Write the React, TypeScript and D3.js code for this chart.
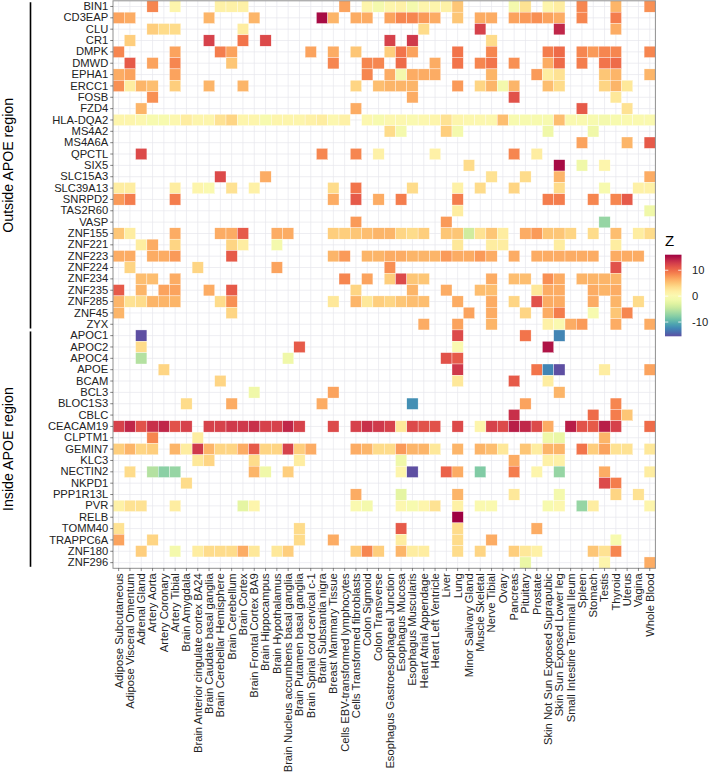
import React, { useEffect, useRef } from "react";
import * as d3 from "d3";

const tissues = [
  "Adipose Subcutaneous", "Adipose Visceral Omentum", "Adrenal Gland", "Artery Aorta",
  "Artery Coronary", "Artery Tibial", "Brain Amygdala", "Brain Anterior cingulate cortex BA24",
  "Brain Caudate basal ganglia", "Brain Cerebellar Hemisphere", "Brain Cerebellum", "Brain Cortex",
  "Brain Frontal Cortex BA9", "Brain Hippocampus", "Brain Hypothalamus",
  "Brain Nucleus accumbens basal ganglia", "Brain Putamen basal ganglia",
  "Brain Spinal cord cervical c-1", "Brain Substantia nigra", "Breast Mammary Tissue",
  "Cells EBV-transformed lymphocytes", "Cells Transformed fibroblasts", "Colon Sigmoid",
  "Colon Transverse", "Esophagus Gastroesophageal Junction", "Esophagus Mucosa",
  "Esophagus Muscularis", "Heart Atrial Appendage", "Heart Left Ventricle", "Liver", "Lung",
  "Minor Salivary Gland", "Muscle Skeletal", "Nerve Tibial", "Ovary", "Pancreas", "Pituitary",
  "Prostate", "Skin Not Sun Exposed Suprapubic", "Skin Sun Exposed Lower leg",
  "Small Intestine Terminal Ileum", "Spleen", "Stomach", "Testis", "Thyroid", "Uterus", "Vagina",
  "Whole Blood",
];

const outsideGenes = [
  "BIN1", "CD3EAP", "CLU", "CR1", "DMPK", "DMWD", "EPHA1", "ERCC1", "FOSB", "FZD4",
  "HLA-DQA2", "MS4A2", "MS4A6A", "QPCTL", "SIX5", "SLC15A3", "SLC39A13", "SNRPD2",
  "TAS2R60", "VASP", "ZNF155", "ZNF221", "ZNF223", "ZNF224", "ZNF234", "ZNF235",
  "ZNF285", "ZNF45", "ZYX",
];

const insideGenes = [
  "APOC1", "APOC2", "APOC4", "APOE", "BCAM", "BCL3", "BLOC1S3", "CBLC", "CEACAM19",
  "CLPTM1", "GEMIN7", "KLC3", "NECTIN2", "NKPD1", "PPP1R13L", "PVR", "RELB", "TOMM40",
  "TRAPPC6A", "ZNF180", "ZNF296",
];

// each gene: [tissue index, Z] pairs, missing tissues are blank
const outsideZ: [number, number][][] = [
  [[3, 8.5], [5, 1], [9, 1.5], [10, 1.5], [11, 1.5], [20, 7], [22, 1], [23, -1], [24, 1], [25, 1.5], [26, -1], [27, 1], [28, 1], [29, 1.5], [30, 5], [35, -1], [36, 3], [38, 1], [39, 2], [41, 8.5], [44, 6], [47, 8]],
  [[0, 7], [1, 6.5], [8, 6], [12, 6], [18, 15.5], [19, 6], [21, 6.5], [22, 6.5], [24, 7], [25, 8.5], [26, 8.5], [27, 7.5], [28, 6.5], [30, 5], [32, 6.5], [33, 6.5], [35, 7], [36, 7.5], [37, 8], [38, 7], [39, 6.5], [41, 8.5], [44, 9]],
  [[3, 4.5], [4, 3.5], [5, 3.5], [11, 2], [27, 3.5], [32, 12.5], [39, 14], [44, 6.5]],
  [[1, 4.5], [8, 12.5], [11, 9.5], [13, 12], [24, 12.5], [26, 13], [33, 3.5]],
  [[0, 8.5], [5, 7], [9, 9], [10, 7], [17, 7], [19, 6.5], [21, 5], [24, 4.5], [25, 9.5], [26, 7], [30, 9.5], [33, 8.5], [38, 9], [39, 10], [41, 8.5], [42, 7.5], [43, 8.5], [44, 8.5], [47, 8.5]],
  [[1, 11], [3, 7], [5, 8.5], [10, 5], [19, 8.5], [22, 8.5], [23, 8.5], [25, 10], [28, 6.5], [30, 9.5], [32, 8.5], [33, 9.5], [35, 8], [38, 6.5], [39, 10], [41, 9], [43, 9.5], [44, 10]],
  [[0, 6.5], [1, 7], [5, 7], [22, 8.5], [24, 6.5], [25, -1], [26, 6.5], [27, 6.5], [28, 6.5], [33, 6], [37, 7.5], [38, 2], [39, 3], [43, 5], [44, 6], [47, 6]],
  [[0, 8], [1, 2], [2, 6], [3, 5.5], [5, 4.5], [8, 6], [11, 6], [21, 4], [23, 5.5], [24, 6], [25, 6], [26, 6], [30, 7.5], [32, 4], [33, 6], [34, -1], [35, 6], [38, 5.5], [39, 3.5], [43, 4], [44, 6], [45, 2.5]],
  [[3, 8], [26, 6.5], [35, 11.5], [44, 2.5]],
  [[2, 6], [21, 6.5], [41, 11], [45, 3]],
  [[0, 1], [1, 1], [2, 0.5], [3, -0.5], [4, -0.5], [5, 0.5], [6, 2], [7, 1], [8, 1], [9, 3], [10, 4], [11, 1], [12, 1], [13, -0.5], [14, 1], [15, 1], [16, 1], [17, 1.5], [18, 2], [19, 0.5], [20, 1.5], [22, 0.5], [23, -0.5], [24, 0.5], [25, 0.5], [26, 0], [27, 0.5], [28, 1], [29, 3], [30, 1], [31, 0.5], [32, 0.5], [33, 0.5], [34, 5.5], [35, -0.5], [36, -0.5], [37, -0.5], [38, -0.5], [39, 5.5], [40, 0], [41, 0], [42, -0.5], [43, -1], [44, -0.5], [45, 0], [46, 0], [47, 0]],
  [[24, 3.5], [25, -1], [29, 4.5], [30, -1], [38, -1.5], [42, -1.5]],
  [[41, 7], [45, 6], [47, 11]],
  [[2, 12], [18, 8.5], [21, 8.5], [23, 1.5], [28, 1.5], [35, 8.5], [37, 2]],
  [[31, 3.5], [39, 15.5], [41, -1.5], [43, 1]],
  [[9, 12], [13, 6.5], [33, 3], [36, 3.5], [39, 6], [47, 6.5]],
  [[0, 2], [1, 2], [5, 2], [7, 1], [8, 0], [10, 3], [12, 1.5], [19, 3.5], [21, 9.5], [26, 3.5], [30, 1.5], [32, 3.5], [35, 4], [39, 3.5], [43, -0.5], [46, 1.5], [47, 1.5]],
  [[0, 7.5], [1, 9], [5, 9], [19, 6.5], [21, 11], [23, 6.5], [25, 9], [30, 9], [38, 9], [39, 9], [42, 8.5], [44, 8.5], [45, 11]],
  [[30, 2], [47, -1.5]],
  [[21, 7.5], [29, 7.5], [43, -7]],
  [[0, 5], [1, 2], [5, 6.5], [9, 6.5], [10, 6.5], [11, 11], [14, 6.5], [15, 6.5], [19, 4.5], [20, 4.5], [21, 5], [22, 5.5], [23, 6], [24, 6], [25, 4], [26, 3.5], [27, 4.5], [29, 5], [30, 5], [31, -4], [32, 3], [33, 5], [34, 2], [36, 6.5], [37, 7.5], [38, 5], [39, 5], [40, 4], [42, 3.5], [44, 5.5], [46, 2], [47, 3.5]],
  [[2, 2], [3, 6.5], [5, 4], [10, 4], [11, 2], [14, -1], [30, 2.5], [33, 2], [34, 2], [39, 2], [44, 2]],
  [[0, 6.5], [1, 6.5], [3, 6.5], [4, 6.5], [5, 7.5], [10, 11], [19, 6], [20, 7.5], [22, 6], [23, 6], [24, 6.5], [25, 6.5], [26, 6], [27, 6], [28, 6], [29, 7.5], [30, 6.5], [31, 6.5], [32, 7.5], [33, 6.5], [35, 6.5], [37, 6.5], [38, 6.5], [39, 6.5], [40, 6.5], [41, 6.5], [42, 6.5], [44, 6.5], [45, 6.5], [46, 6.5]],
  [[1, 4], [7, 4], [14, 7], [24, 8], [44, 11.5]],
  [[2, 5.5], [3, 5.5], [5, 6.5], [20, 8.5], [22, 7], [24, 4.5], [25, 12], [26, 5], [27, 5], [33, 6.5], [35, 5.5], [36, 5.5], [38, 8], [39, 6.5], [41, 6], [42, 6], [43, 6], [44, 6]],
  [[0, 11], [2, 6], [4, 7], [5, 7], [8, 6.5], [10, 11], [21, 4], [26, 6], [29, 6.5], [32, 5.5], [33, 5.5], [37, 2.5], [38, 6.5], [39, 6.5], [42, 6.5], [43, 6], [44, 6.5]],
  [[0, 6], [1, 3], [2, 3.5], [3, 6], [4, 6], [5, 6], [9, 3.5], [10, 8], [19, 2.5], [21, 6], [22, 2.5], [23, 4.5], [24, 4], [25, 5], [26, 5.5], [27, 5.5], [30, 6.5], [33, 6.5], [35, 4], [37, 11.5], [38, 6.5], [39, 6.5], [42, 6.5], [44, 6], [46, 3.5]],
  [[0, 6], [10, 4], [31, 7], [33, 6.5], [36, 4], [38, 6.5], [39, 9], [42, -0.5], [44, 5], [45, 8.5]],
  [[27, 6.5], [30, 7], [33, 6], [38, 1.5], [39, 0], [40, 6.5], [41, 7.5], [44, 6.5], [47, 6.5]],
];

const insideZ: [number, number][][] = [
  [[2, -15.5], [30, 12], [36, 9.5], [39, -12.5]],
  [[2, 3.5], [16, 11], [30, 0], [38, 15]],
  [[2, -5.5], [15, -1.5], [29, 11.5], [30, 11]],
  [[4, 4], [30, 13], [37, 9.5], [38, -12.5], [39, -15.5], [43, 2], [47, 7]],
  [[9, 4], [30, 2.5], [35, 11], [38, 2]],
  [[12, -1.5], [19, 7], [39, 6]],
  [[6, 3.5], [10, 6.5], [18, 6.5], [26, -12], [36, 7], [44, 8.5]],
  [[35, 13.5], [42, 10], [44, 9], [45, 5]],
  [[0, 12.5], [1, 14], [2, 11.5], [3, 13.5], [4, 14], [5, 11.5], [6, 12.5], [8, 12.5], [9, 12.5], [10, 13], [11, 13], [12, 13.5], [13, 12.5], [14, 12.5], [15, 14], [16, 12.5], [19, 12], [21, 12.5], [22, 13.5], [23, 13], [24, 12.5], [25, 2.5], [26, 12], [27, 11.5], [28, 11.5], [30, 12], [32, 1], [33, 12.5], [34, 12], [35, 14.5], [36, 14], [37, 12], [38, 6.5], [40, 14.5], [41, 11.5], [42, 11], [43, 14.5], [44, 12.5], [47, 10]],
  [[3, 8.5], [7, 2], [38, -1.5], [39, -2], [43, 6]],
  [[0, 4.5], [1, 6], [2, 4], [3, 4.5], [5, 6], [6, 2], [7, 13], [8, 6], [9, 4], [10, 4], [11, 6.5], [12, 11], [13, 4], [14, 4], [15, 12.5], [16, 4.5], [17, 6.5], [21, 6.5], [22, 6], [23, 3.5], [24, 3.5], [25, 7.5], [26, 6], [27, 6], [28, 2.5], [30, 6], [32, 6], [33, 5.5], [34, 2.5], [36, 5], [37, 2], [38, 6], [39, 6], [41, 9.5], [42, 4.5], [43, 7], [44, 3], [45, 3], [47, 2.5]],
  [[7, 2.5], [8, 4], [12, 3.5], [16, 2], [25, -1.5], [35, 6.5], [38, 1.5], [39, 1.5]],
  [[1, 3.5], [3, -5.5], [4, -7.5], [5, -7], [12, 6], [13, -1.5], [15, 4.5], [25, 1], [26, -15.5], [29, 10.5], [30, 6.5], [32, -8], [35, 9], [37, 1], [39, -7], [43, 6.5], [47, 2]],
  [[6, 3.5], [43, 12], [44, 9]],
  [[21, 6.5], [25, -2.5], [30, 6], [35, 2.5], [39, -1], [44, 4], [46, 3]],
  [[0, 1.5], [1, 3], [2, 3], [5, 2], [11, -2.5], [12, 1], [21, 0], [22, -1], [25, 0.5], [26, -0.5], [27, 1], [28, 3], [30, 1.5], [32, 0], [33, 0], [38, -0.5], [39, 0.5], [41, -7], [42, 2], [47, 1]],
  [[30, 16]],
  [[0, 3], [16, 3.5], [25, 11], [30, 3.5], [37, 6.5]],
  [[0, 7], [3, 4], [16, 3.5], [19, 6.5], [25, 2], [30, 3.5], [33, 6.5], [44, -0.5]],
  [[2, 4.5], [5, -1], [7, 2], [8, 3.5], [9, 3.5], [10, 3.5], [11, 6.5], [12, 2.5], [14, 2.5], [15, 4.5], [21, 4.5], [22, 8.5], [23, 4.5], [25, 6], [26, 2], [27, 2], [30, 3.5], [32, 4], [35, 4.5], [36, 2.5], [37, 1.5], [42, 5], [43, 3], [44, 8.5]],
  [[36, -2], [43, 1], [47, 6.5]],
];

const legendTicks = [10, 0, -10];

const FONT = "'Liberation Sans', Arial, sans-serif";

const App = () => {
  const ref = useRef<SVGSVGElement>(null);

  useEffect(() => {
    const width = 709;
    const height = 772;
    const left = 113;
    const top = 0.8;
    const cellW = 11.3;
    const cellH = 11.35;

    const genes = outsideGenes.concat(insideGenes);
    const rows = outsideZ.concat(insideZ);
    const cells = rows.flatMap((r, i) =>
      r.map(([t, z]) => ({ gene: genes[i], tissue: tissues[t], z }))
    );

    const svg = d3.select(ref.current);
    svg.selectAll("*").remove();
    svg.attr("width", width).attr("height", height);

    const x = d3.scaleBand().domain(tissues).range([left, left + tissues.length * cellW]);
    const y = d3.scaleBand().domain(genes).range([top, top + genes.length * cellH]);
    const right = left + tissues.length * cellW;
    const bottom = top + genes.length * cellH;

    const [zMin, zMax] = d3.extent(cells, d => d.z) as [number, number];
    const color = d3.scaleSequential((t: number) => d3.interpolateSpectral(1 - t)).domain([zMin, zMax]);

    svg.append("rect")
      .attr("x", left).attr("y", top)
      .attr("width", right - left).attr("height", bottom - top)
      .attr("fill", "white");

    // grid lines at category centres
    const grid = svg.append("g").attr("stroke", "#e6e6ec").attr("stroke-width", 0.7);
    grid.selectAll("line.v").data(tissues).join("line")
      .attr("class", "v")
      .attr("x1", d => x(d)! + x.bandwidth() / 2).attr("x2", d => x(d)! + x.bandwidth() / 2)
      .attr("y1", top).attr("y2", bottom);
    grid.selectAll("line.h").data(genes).join("line")
      .attr("class", "h")
      .attr("y1", d => y(d)! + y.bandwidth() / 2).attr("y2", d => y(d)! + y.bandwidth() / 2)
      .attr("x1", left).attr("x2", right);

    svg.append("g")
      .selectAll("rect")
      .data(cells)
      .join("rect")
      .attr("x", d => x(d.tissue)!)
      .attr("y", d => y(d.gene)!)
      .attr("width", x.bandwidth())
      .attr("height", y.bandwidth())
      .attr("fill", d => color(d.z))
      .attr("stroke", "white")
      .attr("stroke-width", 0.35);

    svg.append("rect")
      .attr("x", left).attr("y", top)
      .attr("width", right - left).attr("height", bottom - top)
      .attr("fill", "none").attr("stroke", "#8f8f8f").attr("stroke-width", 1);

    const yAxis = svg.append("g")
      .attr("transform", `translate(${left},0)`)
      .call(d3.axisLeft(y).tickSize(2.75).tickPadding(2));
    yAxis.select(".domain").remove();
    yAxis.selectAll("line").attr("stroke", "#333").attr("stroke-width", 0.6);
    yAxis.selectAll("text")
      .attr("font-size", 11.2).attr("font-family", FONT).attr("fill", "#222");

    const xAxis = svg.append("g")
      .attr("transform", `translate(0,${bottom})`)
      .call(d3.axisBottom(x).tickSize(2.75).tickPadding(2));
    xAxis.select(".domain").remove();
    xAxis.selectAll("line").attr("stroke", "#333").attr("stroke-width", 0.6);
    xAxis.selectAll("text")
      .attr("transform", "rotate(-90)")
      .attr("text-anchor", "end")
      .attr("x", -5)
      .attr("y", 0)
      .attr("dy", "0.35em")
      .attr("font-size", 11.2).attr("font-family", FONT).attr("fill", "#222");

    // region brackets on the left
    const groups = [
      { label: "Outside APOE region", from: outsideGenes[0], to: outsideGenes[outsideGenes.length - 1] },
      { label: "Inside APOE region", from: insideGenes[0], to: insideGenes[insideGenes.length - 1] },
    ];
    groups.forEach(g => {
      const y0 = y(g.from)! + 1.5;
      const y1 = y(g.to)! + y.bandwidth() - 1.5;
      svg.append("line")
        .attr("x1", 30.5).attr("x2", 30.5)
        .attr("y1", y0).attr("y2", y1)
        .attr("stroke", "black").attr("stroke-width", 1.6);
      svg.append("text")
        .attr("transform", `translate(12.5,${(y0 + y1) / 2}) rotate(-90)`)
        .attr("text-anchor", "middle")
        .attr("font-size", 14.2).attr("font-family", FONT).attr("fill", "black")
        .text(g.label);
    });

    // colour bar legend
    const barX = 665;
    const barW = 16.5;
    const barTop = 254.7;
    const barBottom = 336.3;
    const ly = d3.scaleLinear().domain([zMin, zMax]).range([barBottom, barTop]);

    const grad = svg.append("defs").append("linearGradient")
      .attr("id", "zgrad").attr("x1", 0).attr("y1", 1).attr("x2", 0).attr("y2", 0);
    d3.range(0, 1.0001, 0.05).forEach(t => {
      grad.append("stop")
        .attr("offset", t)
        .attr("stop-color", color(zMin + t * (zMax - zMin)));
    });

    svg.append("text")
      .attr("x", barX).attr("y", 245.5)
      .attr("font-size", 15).attr("font-family", FONT).attr("fill", "black")
      .text("Z");

    svg.append("rect")
      .attr("x", barX).attr("y", barTop)
      .attr("width", barW).attr("height", barBottom - barTop)
      .attr("fill", "url(#zgrad)");

    const lt = svg.append("g");
    legendTicks.forEach(v => {
      lt.append("line")
        .attr("x1", barX).attr("x2", barX + barW / 5)
        .attr("y1", ly(v)).attr("y2", ly(v))
        .attr("stroke", "white").attr("stroke-width", 0.8);
      lt.append("line")
        .attr("x1", barX + barW).attr("x2", barX + barW - barW / 5)
        .attr("y1", ly(v)).attr("y2", ly(v))
        .attr("stroke", "white").attr("stroke-width", 0.8);
      lt.append("text")
        .attr("x", 692).attr("y", ly(v))
        .attr("dy", "0.35em")
        .attr("font-size", 11.2).attr("font-family", FONT).attr("fill", "#222")
        .text(v);
    });
  }, []);

  return <svg ref={ref} width={709} height={772} style={{ position: "absolute", left: 0, top: 0 }}></svg>;
};

export default App;
